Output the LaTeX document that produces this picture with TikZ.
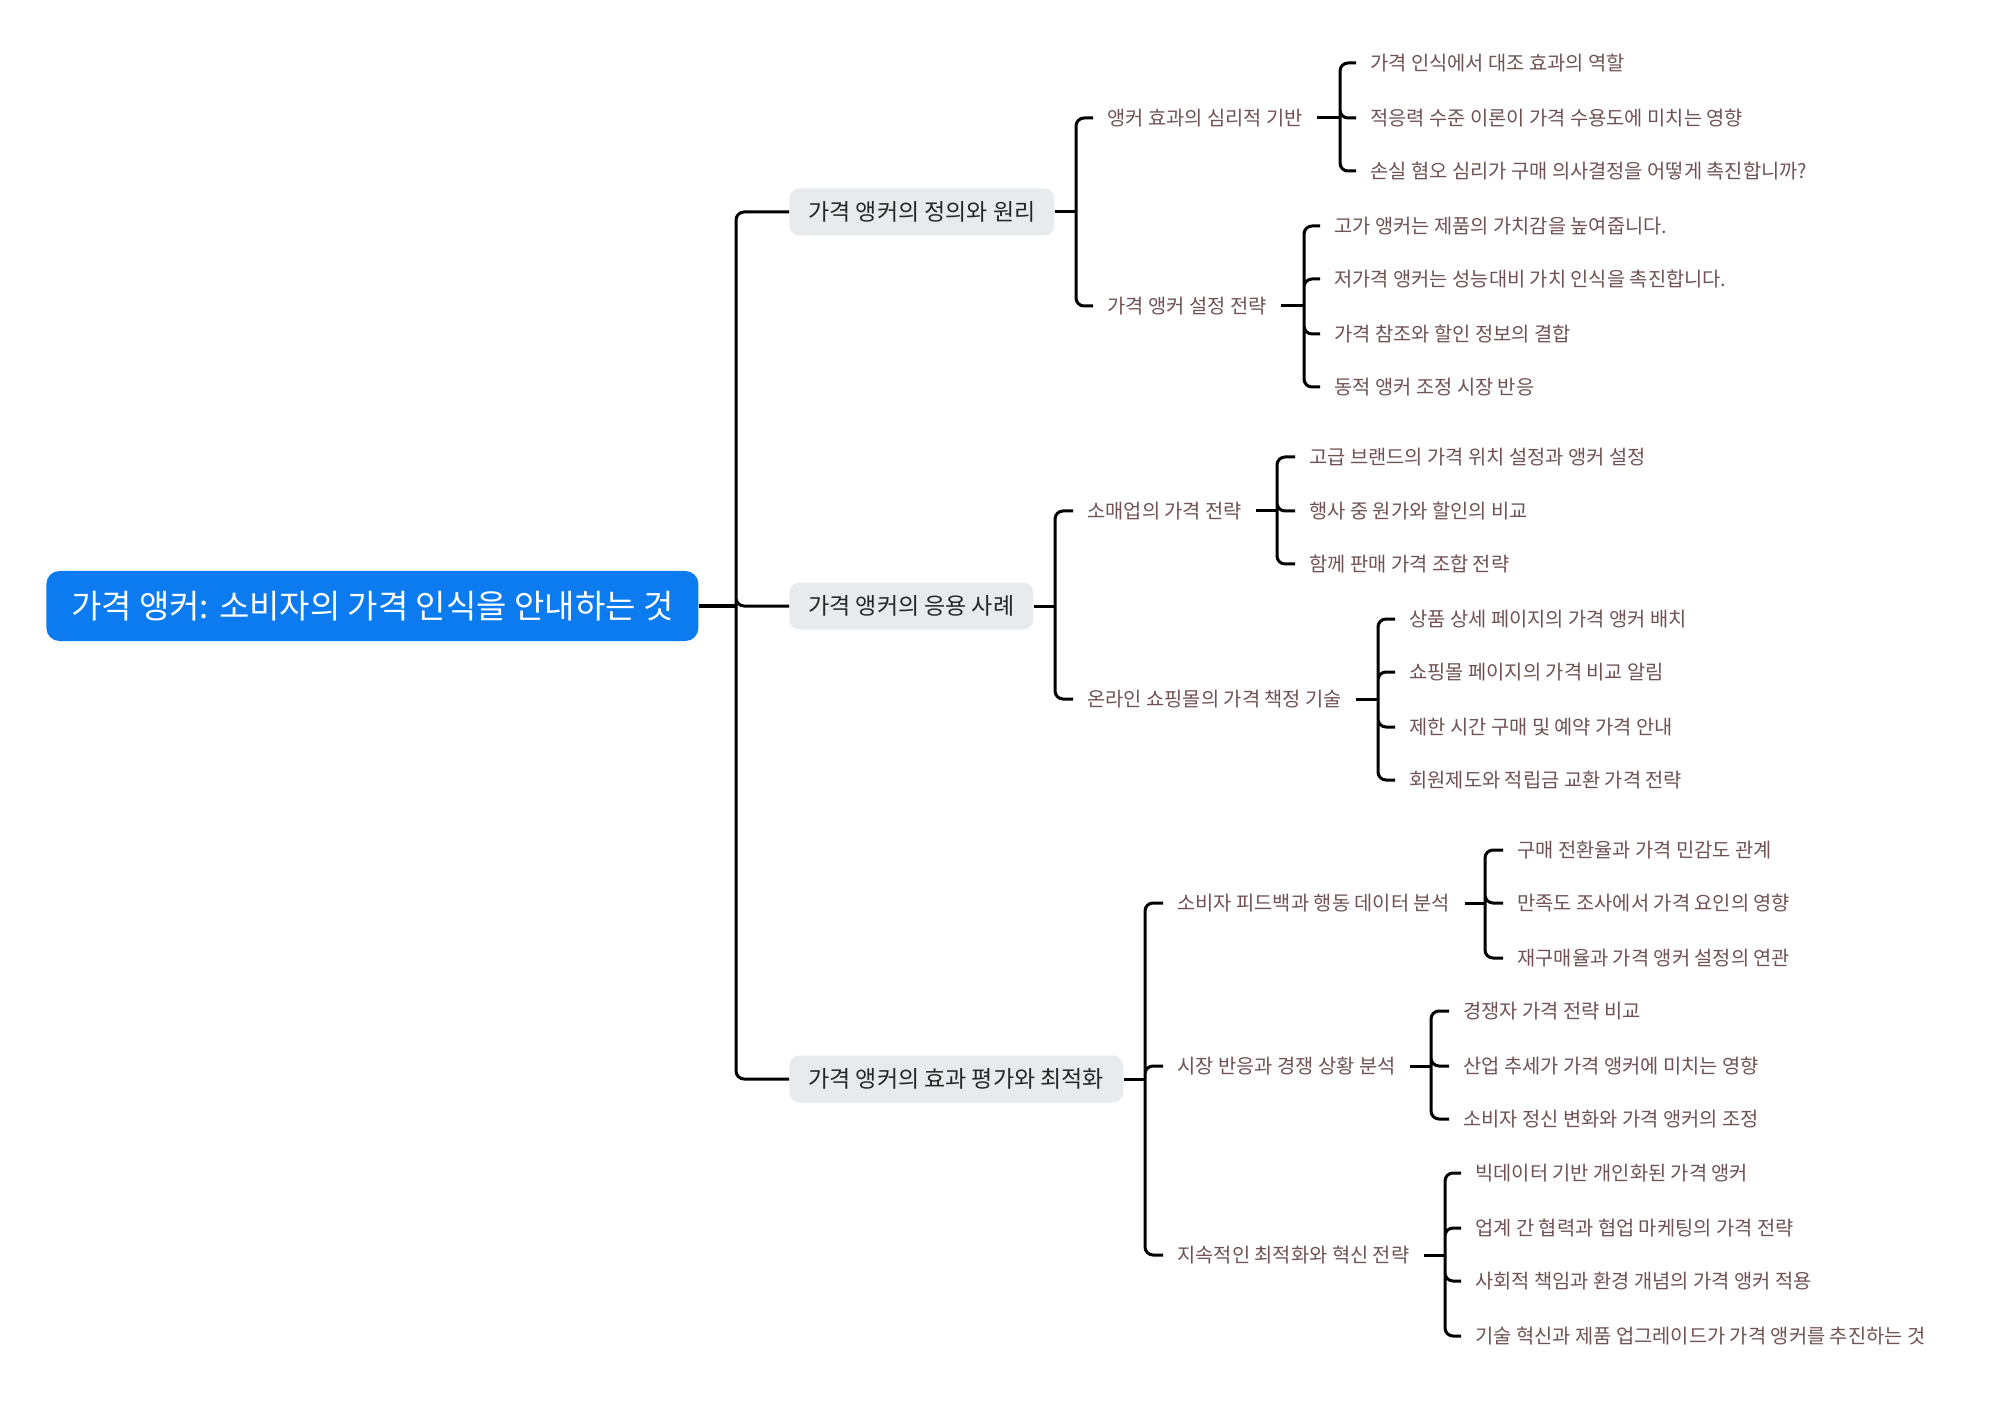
\documentclass[tikz,border=0pt]{standalone}
\usepackage{fontspec}
\setmainfont{Noto Sans CJK KR}
\definecolor{RootBlue}{RGB}{11,123,239}
\definecolor{TopicGray}{RGB}{232,235,238}
\definecolor{TopicInk}{RGB}{38,38,38}
\definecolor{LeafBrown}{RGB}{112,82,82}
\tikzset{
  rootbox/.style={fill=RootBlue,text=white,rounded corners=6.5pt,
    minimum width=326pt,minimum height=35pt,align=center,
    font=\fontsize{16.5}{19}\selectfont},
  topic/.style={fill=TopicGray,text=TopicInk,rounded corners=5pt,
    minimum height=23.5pt,inner xsep=9.5pt,font=\fontsize{11.5}{14}\selectfont},
  subtopic/.style={text=LeafBrown,inner xsep=7pt,inner ysep=2pt,
    font=\fontsize{9.9}{12}\selectfont},
  leaf/.style={subtopic},
  link/.style={draw=black,line width=1.5pt},
  branch/.style={link,rounded corners=4pt}
}
\begin{document}
\begin{tikzpicture}[x=0.5pt,y=-0.5pt]
  \useasboundingbox (0,0) rectangle (1989,1416);
  % root and main topics
  \node[rootbox,anchor=west] (root) at (46,606) {가격 앵커: 소비자의 가격 인식을 안내하는 것};
  \node[topic,anchor=west] (def) at (789,212) {가격 앵커의 정의와 원리};
  \node[topic,anchor=west] (app) at (789,606) {가격 앵커의 응용 사례};
  \node[topic,anchor=west] (eval) at (789,1079) {가격 앵커의 효과 평가와 최적화};

  % subtopics
  \node[subtopic,anchor=west] (psy) at (1093,118) {앵커 효과의 심리적 기반};
  \node[subtopic,anchor=west] (set) at (1093,306) {가격 앵커 설정 전략};
  \node[subtopic,anchor=west] (retail) at (1073,511) {소매업의 가격 전략};
  \node[subtopic,anchor=west] (online) at (1073,699) {온라인 쇼핑몰의 가격 책정 기술};
  \node[subtopic,anchor=west] (feed) at (1163,903) {소비자 피드백과 행동 데이터 분석};
  \node[subtopic,anchor=west] (market) at (1163,1066) {시장 반응과 경쟁 상황 분석};
  \node[subtopic,anchor=west] (innov) at (1163,1255) {지속적인 최적화와 혁신 전략};

  % leaves
  \node[leaf,anchor=west] (psy1) at (1356,63) {가격 인식에서 대조 효과의 역할};
  \node[leaf,anchor=west] (psy2) at (1356,118) {적응력 수준 이론이 가격 수용도에 미치는 영향};
  \node[leaf,anchor=west] (psy3) at (1356,171) {손실 혐오 심리가 구매 의사결정을 어떻게 촉진합니까?};
  \node[leaf,anchor=west] (set1) at (1320,226) {고가 앵커는 제품의 가치감을 높여줍니다.};
  \node[leaf,anchor=west] (set2) at (1320,279) {저가격 앵커는 성능대비 가치 인식을 촉진합니다.};
  \node[leaf,anchor=west] (set3) at (1320,334) {가격 참조와 할인 정보의 결합};
  \node[leaf,anchor=west] (set4) at (1320,387) {동적 앵커 조정 시장 반응};
  \node[leaf,anchor=west] (retail1) at (1295,457) {고급 브랜드의 가격 위치 설정과 앵커 설정};
  \node[leaf,anchor=west] (retail2) at (1295,511) {행사 중 원가와 할인의 비교};
  \node[leaf,anchor=west] (retail3) at (1295,564) {함께 판매 가격 조합 전략};
  \node[leaf,anchor=west] (online1) at (1395,619) {상품 상세 페이지의 가격 앵커 배치};
  \node[leaf,anchor=west] (online2) at (1395,672) {쇼핑몰 페이지의 가격 비교 알림};
  \node[leaf,anchor=west] (online3) at (1395,727) {제한 시간 구매 및 예약 가격 안내};
  \node[leaf,anchor=west] (online4) at (1395,780) {회원제도와 적립금 교환 가격 전략};
  \node[leaf,anchor=west] (feed1) at (1503,850) {구매 전환율과 가격 민감도 관계};
  \node[leaf,anchor=west] (feed2) at (1503,903) {만족도 조사에서 가격 요인의 영향};
  \node[leaf,anchor=west] (feed3) at (1503,958) {재구매율과 가격 앵커 설정의 연관};
  \node[leaf,anchor=west] (market1) at (1449,1011) {경쟁자 가격 전략 비교};
  \node[leaf,anchor=west] (market2) at (1449,1066) {산업 추세가 가격 앵커에 미치는 영향};
  \node[leaf,anchor=west] (market3) at (1449,1119) {소비자 정신 변화와 가격 앵커의 조정};
  \node[leaf,anchor=west] (innov1) at (1461,1173) {빅데이터 기반 개인화된 가격 앵커};
  \node[leaf,anchor=west] (innov2) at (1461,1228) {업계 간 협력과 협업 마케팅의 가격 전략};
  \node[leaf,anchor=west] (innov3) at (1461,1281) {사회적 책임과 환경 개념의 가격 앵커 적용};
  \node[leaf,anchor=west] (innov4) at (1461,1336) {기술 혁신과 제품 업그레이드가 가격 앵커를 추진하는 것};

  % junctions
  \coordinate (jroot) at (736,606);
  \coordinate (jdef) at (1076,212);
  \coordinate (japp) at (1055,606);
  \coordinate (jeval) at (1145,1079);
  \coordinate (jpsy) at (1340,118);
  \coordinate (jset) at (1304,306);
  \coordinate (jretail) at (1277,511);
  \coordinate (jonline) at (1378,699);
  \coordinate (jfeed) at (1485,903);
  \coordinate (jmarket) at (1431,1066);
  \coordinate (jinnov) at (1445,1255);

  % connectors
  \draw[link,line width=2.2pt] (root.east) -- (jroot);
  \draw[branch] (jroot) |- (def.west) (jroot) |- (app.west) (jroot) |- (eval.west);
  \draw[link] (def.east) -- (jdef);
  \draw[branch] (jdef) |- (psy.west) (jdef) |- (set.west);
  \draw[link] (app.east) -- (japp);
  \draw[branch] (japp) |- (retail.west) (japp) |- (online.west);
  \draw[link] (eval.east) -- (jeval);
  \draw[branch] (jeval) |- (feed.west) (jeval) |- (market.west) (jeval) |- (innov.west);
  \draw[link] (psy.east) -- (jpsy);
  \draw[branch] (jpsy) |- (psy1.west) (jpsy) |- (psy2.west) (jpsy) |- (psy3.west);
  \draw[link] (set.east) -- (jset);
  \draw[branch] (jset) |- (set1.west) (jset) |- (set2.west) (jset) |- (set3.west) (jset) |- (set4.west);
  \draw[link] (retail.east) -- (jretail);
  \draw[branch] (jretail) |- (retail1.west) (jretail) |- (retail2.west) (jretail) |- (retail3.west);
  \draw[link] (online.east) -- (jonline);
  \draw[branch] (jonline) |- (online1.west) (jonline) |- (online2.west) (jonline) |- (online3.west) (jonline) |- (online4.west);
  \draw[link] (feed.east) -- (jfeed);
  \draw[branch] (jfeed) |- (feed1.west) (jfeed) |- (feed2.west) (jfeed) |- (feed3.west);
  \draw[link] (market.east) -- (jmarket);
  \draw[branch] (jmarket) |- (market1.west) (jmarket) |- (market2.west) (jmarket) |- (market3.west);
  \draw[link] (innov.east) -- (jinnov);
  \draw[branch] (jinnov) |- (innov1.west) (jinnov) |- (innov2.west) (jinnov) |- (innov3.west) (jinnov) |- (innov4.west);
\end{tikzpicture}
\end{document}
